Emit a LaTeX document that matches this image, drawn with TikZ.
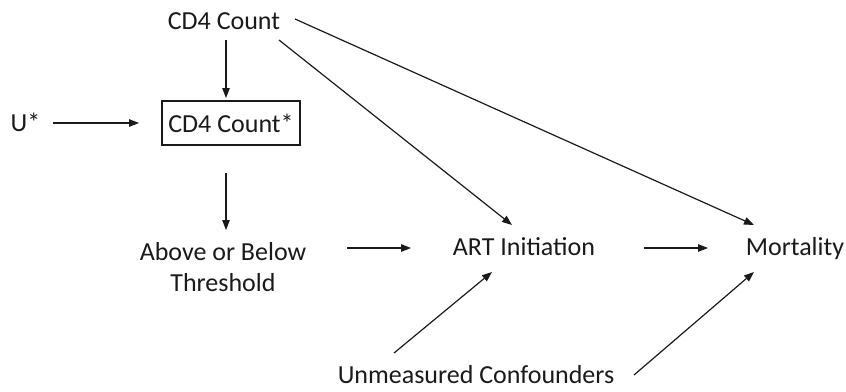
\documentclass[tikz,border=0pt]{standalone}
\usepackage{fontspec}
\setmainfont{Carlito}
\usetikzlibrary{arrows.meta}
\definecolor{ink}{HTML}{1A1A1A}
\begin{document}
\begin{tikzpicture}[x=1pt,y=-1pt,
  lbl/.style={inner sep=0pt,anchor=base,text=ink,font=\fontsize{26}{31}\selectfont},
  boxed/.style={draw=ink,line width=1.1pt,minimum width=138pt,minimum height=44pt,inner sep=0pt,text=ink,font=\fontsize{26}{31}\selectfont},
  arr/.style={draw=ink,line width=1.2pt,-{Triangle[length=10pt,width=7.5pt]}}]
\useasboundingbox (0,0) rectangle (846,391);
% nodes
\node[lbl] (cd4) at (224,29) {CD4 Count};
\node[boxed] (cd4s) at (231,123) {CD4 Count*};
\node[lbl] (u) at (25.5,131) {U*};
\node[lbl,align=center] (thr) at (223,291) {Above or Below\\Threshold};
\node[lbl] (art) at (524,255) {ART Initiation};
\node[lbl] (mort) at (795,255) {Mortality};
\node[lbl] (unm) at (476,383) {Unmeasured Confounders};
% connector ends
\coordinate (a1s) at (226,40);  \coordinate (a1e) at (226,98);
\coordinate (a2s) at (53,123);  \coordinate (a2e) at (139,123);
\coordinate (a3s) at (226,173); \coordinate (a3e) at (226,230);
\coordinate (a4s) at (347,248); \coordinate (a4e) at (411,248);
\coordinate (a5s) at (644,248); \coordinate (a5e) at (708,248);
\coordinate (a6s) at (279,40);  \coordinate (a6e) at (512,225);
\coordinate (a7s) at (295,19);  \coordinate (a7e) at (754,225);
\coordinate (a8s) at (394,353); \coordinate (a8e) at (492,272);
\coordinate (a9s) at (634,375); \coordinate (a9e) at (754,272);
% connectors
\draw[arr] (a1s) -- (a1e);
\draw[arr] (a2s) -- (a2e);
\draw[arr] (a3s) -- (a3e);
\draw[arr] (a4s) -- (a4e);
\draw[arr] (a5s) -- (a5e);
\draw[arr] (a6s) -- (a6e);
\draw[arr] (a7s) -- (a7e);
\draw[arr] (a8s) -- (a8e);
\draw[arr] (a9s) -- (a9e);
\end{tikzpicture}
\end{document}
